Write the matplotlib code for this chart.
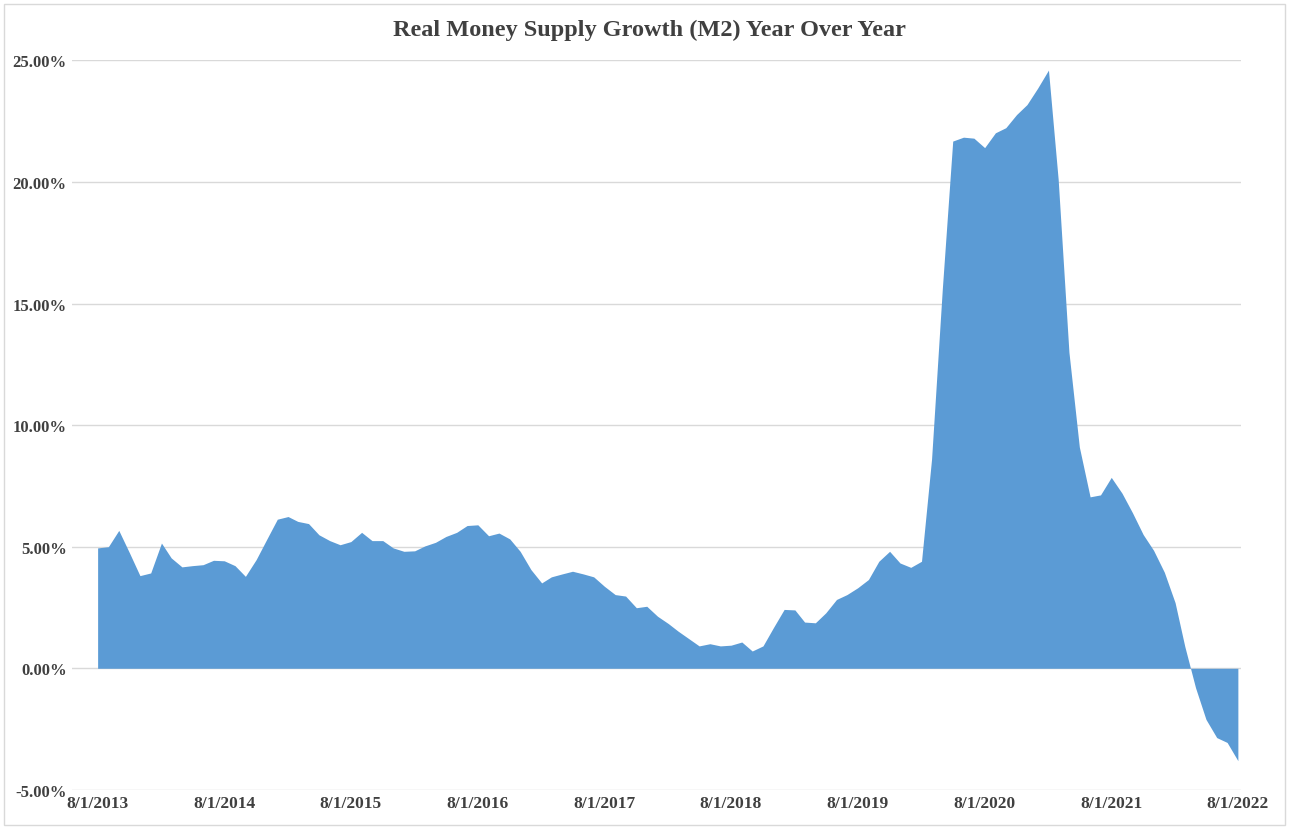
import matplotlib.pyplot as plt
import matplotlib.patches as mpatches
import pandas as pd

# real M2 growth, year over year (%), monthly from 8/1/2013 to 8/1/2022
growth = [
    4.95, 5.00, 5.67, 4.74, 3.81, 3.92, 5.15, 4.54, 4.17, 4.22,
    4.26, 4.44, 4.42, 4.22, 3.78, 4.47, 5.29, 6.13, 6.24, 6.04,
    5.95, 5.49, 5.25, 5.08, 5.21, 5.59, 5.25, 5.25, 4.95, 4.81,
    4.83, 5.03, 5.18, 5.42, 5.59, 5.87, 5.90, 5.45, 5.56, 5.32,
    4.81, 4.06, 3.51, 3.76, 3.88, 3.99, 3.88, 3.76, 3.37, 3.03,
    2.97, 2.49, 2.55, 2.14, 1.84, 1.53, 1.22, 0.92, 1.01, 0.92,
    0.95, 1.08, 0.71, 0.92, 1.67, 2.42, 2.40, 1.90, 1.87, 2.28,
    2.83, 3.03, 3.31, 3.65, 4.40, 4.81, 4.33, 4.15, 4.40, 8.60,
    15.60, 21.68, 21.84, 21.80, 21.41, 22.02, 22.23, 22.77, 23.18, 23.86,
    24.60, 20.10, 13.00, 9.10, 7.05, 7.13, 7.85, 7.20, 6.40, 5.50,
    4.85, 3.95, 2.70, 0.90, -0.80, -2.10, -2.85, -3.05, -3.80,
]
months = pd.date_range("2013-08-01", periods=len(growth), freq="MS")

x_tick_dates = pd.to_datetime([
    "2013-08-01", "2014-08-01", "2015-08-01", "2016-08-01", "2017-08-01",
    "2018-08-01", "2019-08-01", "2020-08-01", "2021-08-01", "2022-08-01",
])
x_tick_labels = [
    "8/1/2013", "8/1/2014", "8/1/2015", "8/1/2016", "8/1/2017",
    "8/1/2018", "8/1/2019", "8/1/2020", "8/1/2021", "8/1/2022",
]
y_ticks = [-5, 0, 5, 10, 15, 20, 25]
y_tick_labels = ["-5.00%", "0.00%", "5.00%", "10.00%", "15.00%", "20.00%", "25.00%"]

plt.rcParams["font.family"] = ["Liberation Serif", "DejaVu Serif"]
text_color = "#404040"

fig = plt.figure(figsize=(12.91, 8.29), dpi=100)
ax = fig.add_axes([0.056, 0.046, 0.905, 0.880])

ax.fill_between(months, growth, 0, color="#5B9BD5", linewidth=0, zorder=2)

ax.set_ylim(-5, 25)
ax.set_xlim(months[0] - pd.Timedelta(days=73), months[-1] + pd.Timedelta(days=8))
ax.set_yticks(y_ticks)
ax.set_yticklabels(y_tick_labels)
ax.set_xticks(x_tick_dates)
ax.set_xticklabels(x_tick_labels)
ax.grid(axis="y", color="#D9D9D9", linewidth=1, zorder=0)
ax.tick_params(axis="both", length=0, labelcolor=text_color)
ax.tick_params(axis="y", pad=4, labelsize=12)
ax.tick_params(axis="x", pad=4, labelsize=12.5)
for lbl in ax.get_xticklabels() + ax.get_yticklabels():
    lbl.set_fontweight("bold")
for s in ax.spines.values():
    s.set_visible(False)

fig.text(0.503, 0.963, "Real Money Supply Growth (M2) Year Over Year",
         ha="center", va="center", fontsize=17.5, fontweight="bold",
         color=text_color)

# light chart border like the Excel frame
fig.patches.append(mpatches.Rectangle((0.003, 0.004), 0.992, 0.99, transform=fig.transFigure,
                                      fill=False, edgecolor="#D9D9D9", linewidth=1))

fig.savefig("out.png", dpi=100)
